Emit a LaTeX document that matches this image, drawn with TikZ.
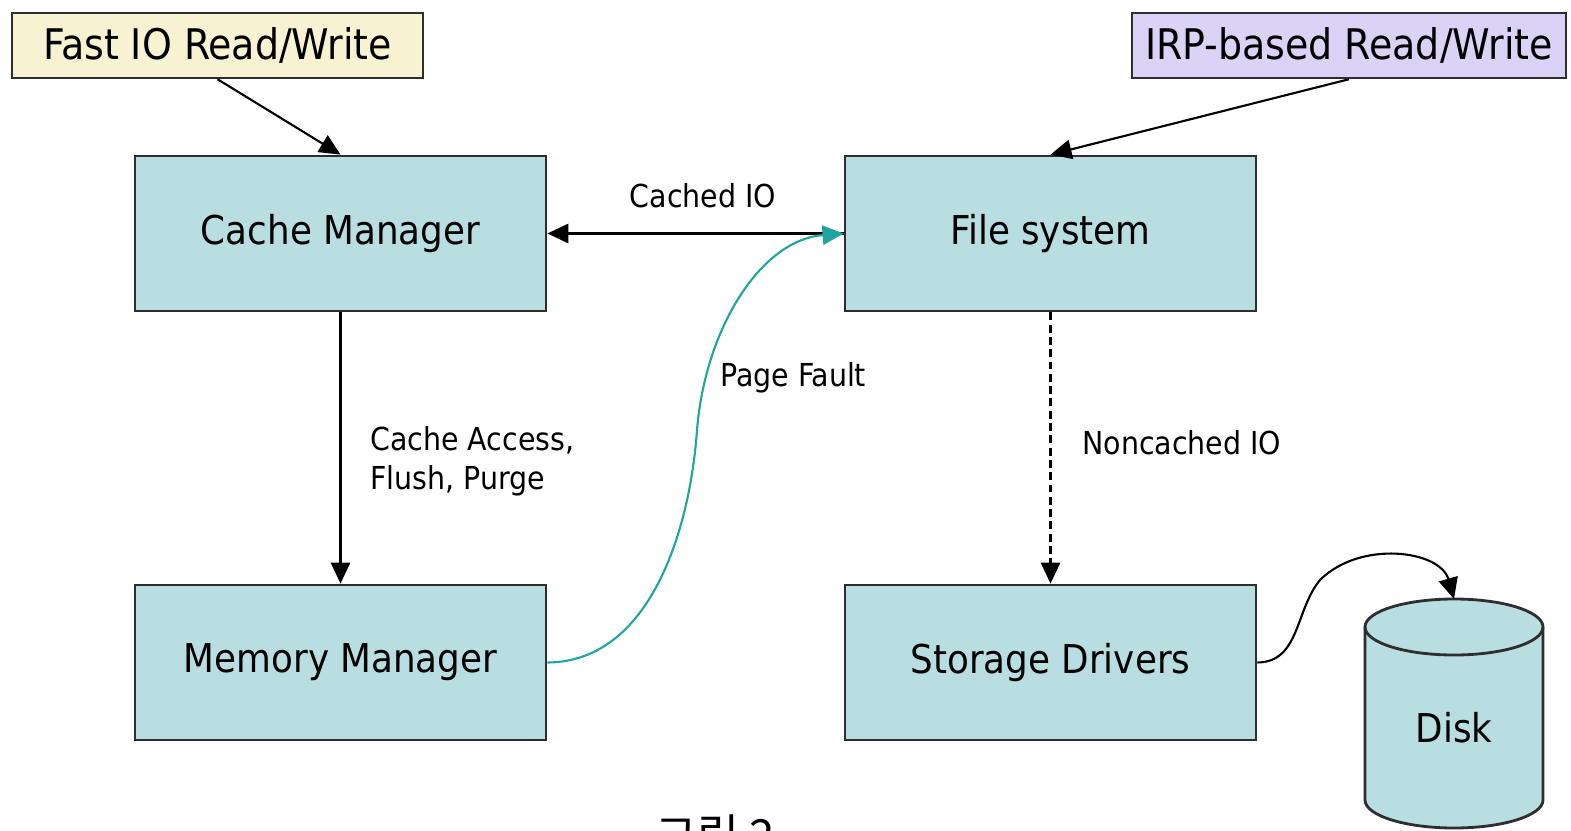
\documentclass[tikz,border=0pt]{standalone}
\usepackage{fontspec}
\setmainfont{DejaVu Sans Condensed}
\newfontfamily\krfont{Noto Sans CJK KR}
\usetikzlibrary{arrows.meta}
\definecolor{boxfill}{HTML}{B8DEE2}
\definecolor{fastfill}{HTML}{F7F3D2}
\definecolor{irpfill}{HTML}{DAD3F6}
\definecolor{faultline}{HTML}{1FA3A3}
\definecolor{edgeline}{HTML}{2E2E2E}
\begin{document}
\begin{tikzpicture}[x=0.02cm,y=-0.02cm,
  block/.style={rectangle,draw=edgeline,line width=1.6pt,fill=boxfill,
    minimum width=8.22cm,minimum height=3.1cm,font=\fontsize{22.6}{27}\selectfont},
  topbox/.style={rectangle,draw=edgeline,line width=1.4pt,
    minimum height=1.3cm,font=\fontsize{24}{28}\selectfont},
  lbl/.style={font=\fontsize{18}{22}\selectfont,inner sep=0pt},
  link/.style={-{Triangle[length=12pt,width=11pt]},line width=1.2pt,black}]
\useasboundingbox (0,0) rectangle (1571,831);
\node[topbox,fill=fastfill,minimum width=8.22cm] (fast) at (217.5,45.5) {Fast IO Read/Write};
\node[topbox,fill=irpfill,minimum width=8.68cm] (irp) at (1349,45.5) {IRP-based Read/Write};
\node[block] (cache) at (340.5,233.5) {Cache Manager};
\node[block] (fs) at (1050.5,233.5) {File system};
\node[block] (mem) at (340.5,662.5) {Memory Manager};
\node[block] (drv) at (1050.5,662.5) {Storage Drivers};
% disk
\filldraw[fill=boxfill,draw=edgeline,line width=1.6pt]
  (1365,627) -- (1365,800) arc[start angle=180,end angle=0,x radius=89,y radius=28]
  -- (1543,627) arc[start angle=0,end angle=-180,x radius=89,y radius=28] -- cycle;
\draw[edgeline,line width=1.6pt] (1365,627) arc[start angle=180,end angle=0,x radius=89,y radius=28];
\coordinate (disktop) at (1454,599);
\node[font=\fontsize{22.6}{27}\selectfont] (disk) at (1454,728) {Disk};
% arrows
\draw[link] (fast.south) -- (cache.north);
\draw[link] (irp.south) -- (fs.north);
\draw[link] (fs.west) -- (cache.east);
\node[lbl] (cachedio) at (703,196) {Cached IO};
\draw[link] (cache.south) -- (mem.north);
\node[lbl,anchor=west,align=left] (access) at (370,461) {Cache Access,\\Flush, Purge};
\draw[link,dash pattern=on 4.5pt off 2.5pt] (fs.south) -- (drv.north);
\node[lbl,anchor=west] (noncached) at (1082,443) {Noncached IO};
\draw[link,faultline] (mem.east) .. controls (650,662) and (690,530) .. (697,430)
  .. controls (705,330) and (760,240) .. (fs.west);
\node[lbl,anchor=west] (fault) at (720,378) {Page Fault};
\draw[link] (drv.east) .. controls (1300,662) and (1295,610) .. (1320,580)
  .. controls (1360,540) and (1440,550) .. (disktop);
\node[font=\krfont\fontsize{26}{30}\selectfont,anchor=base] (caption) at (715,852) {그림 2};
\end{tikzpicture}
\end{document}
